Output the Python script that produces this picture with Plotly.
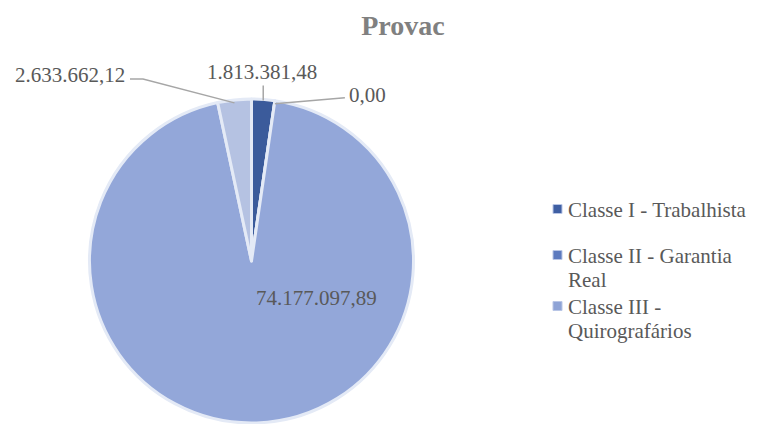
import math
import plotly.graph_objects as go

# ---- data ----
classes = ["Classe I - Trabalhista", "Classe II - Garantia Real",
           "Classe III - Quirografários", "Classe IV - ME/EPP"]
values = [1813381.48, 0.00, 74177097.89, 2633662.12]
legend_lines = [["Classe I - Trabalhista"],
                ["Classe II - Garantia", "Real"],
                ["Classe III -", "Quirografários"]]
title_text = "Provac"

# ---- styles ----
W, H = 764, 424
slice_colors = ["#3B5B9B", "#5D7BBF", "#93A7D9", "#B5C2E2"]
legend_colors = ["#3F5FA3", "#5C7ABF", "#8EA3D6"]
FONT = "Liberation Serif"
TXT = "#595959"

cx, cy, R = 251.5, 261.0, 162.0  # pie centre / radius in px


def br(v):
    s = f"{v:,.2f}"
    return s.replace(",", "X").replace(".", ",").replace("X", ".")


fig = go.Figure()
fig.add_trace(go.Pie(
    labels=classes, values=values, sort=False, direction="clockwise", rotation=0,
    marker=dict(colors=slice_colors, line=dict(color="#E4EAF6", width=3)),
    textinfo="none", showlegend=False, hoverinfo="label+value",
    domain=dict(x=[(cx - R) / W, (cx + R) / W], y=[1 - (cy + R) / H, 1 - (cy - R) / H]),
))

# ---- data labels placed from slice geometry ----
total = sum(values)
cum = 0.0
edge = []
for v in values:
    a0 = cum / total * 360
    cum += v
    a1 = cum / total * 360
    edge.append((a0, a1))


def pt(angle_deg, r):
    a = math.radians(angle_deg)
    return cx + r * math.sin(a), cy - r * math.cos(a)


annotations = []
shapes = []
line_style = dict(color="#A6A6A6", width=1.5)
lab_font = dict(family=FONT, size=21, color=TXT)

# Classe I: vertical leader line
a = (edge[0][0] + edge[0][1]) / 2
x0, y0 = pt(a, R)
shapes.append(dict(type="line", xref="paper", yref="paper",
                   x0=x0 / W, y0=1 - (y0 + 1) / H, x1=x0 / W, y1=1 - (y0 - 14) / H, line=line_style))
annotations.append(dict(x=(x0 - 1) / W, y=1 - (y0 - 27) / H, text=br(values[0]),
                        xanchor="center", yanchor="middle"))

# Classe II (zero): line to the right
x0, y0 = pt(edge[1][0], R)
shapes.append(dict(type="line", xref="paper", yref="paper",
                   x0=x0 / W, y0=1 - (y0 + 3) / H, x1=(x0 + 70) / W, y1=1 - (y0 - 3) / H, line=line_style))
annotations.append(dict(x=(x0 + 72) / W, y=1 - (y0 - 6) / H, text=br(values[1]),
                        xanchor="left", yanchor="middle"))

# Classe III: inside label
annotations.append(dict(x=316 / W, y=1 - 298 / H, text=br(values[2]),
                        xanchor="center", yanchor="middle"))

# Classe IV: bent leader line to the left
a = (edge[3][0] + edge[3][1]) / 2
x0, y0 = pt(a, R)
path = (f"M {x0 / W} {1 - (y0 + 3) / H} L {143 / W} {1 - 79 / H} L {130 / W} {1 - 79 / H}")
shapes.append(dict(type="path", xref="paper", yref="paper", path=path, line=line_style))
annotations.append(dict(x=127 / W, y=1 - 75 / H, text=br(values[3]),
                        xanchor="right", yanchor="middle"))

for an in annotations:
    an.update(xref="paper", yref="paper", showarrow=False, font=lab_font)

# ---- legend (keys + text) ----
leg_x_key, leg_x_text = 557.5, 567
leg_y = [209, 255, 306]
line_h = 24
for lines, col, yb in zip(legend_lines, legend_colors, leg_y):
    shapes.append(dict(type="rect", xref="paper", yref="paper",
                       x0=(leg_x_key - 4.5) / W, x1=(leg_x_key + 4.5) / W,
                       y0=1 - (yb + 4.5) / H, y1=1 - (yb - 4.5) / H,
                       fillcolor=col, line=dict(color="#B9C6E6", width=1)))
    for k, ln in enumerate(lines):
        annotations.append(dict(x=leg_x_text / W, y=1 - (yb + k * line_h + 1) / H, text=ln,
                                xref="paper", yref="paper", showarrow=False,
                                xanchor="left", yanchor="middle", borderpad=0,
                                font=dict(family=FONT, size=21, color=TXT)))

fig.update_layout(
    width=W, height=H, margin=dict(l=0, r=0, t=0, b=0),
    paper_bgcolor="white", plot_bgcolor="white",
    title=dict(text=f"<b>{title_text}</b>", x=403 / W, y=1 - 25 / H,
               xanchor="center", yanchor="middle",
               font=dict(family=FONT, size=28, color="#808080")),
    showlegend=False,
    annotations=annotations, shapes=shapes,
)

fig.write_html("out.html", config={"displayModeBar": False},
               post_script="document.body.style.margin='0';document.body.style.overflow='hidden';")
